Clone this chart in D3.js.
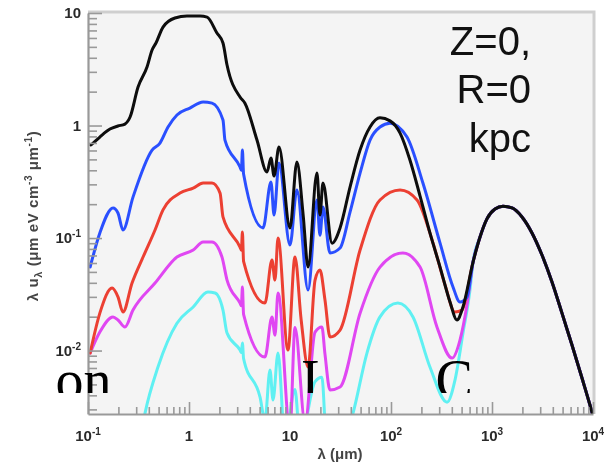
<!DOCTYPE html>
<html>
<head>
<meta charset="utf-8">
<script src="https://cdn.jsdelivr.net/npm/d3@7/dist/d3.min.js"></script>
<style>
  html, body { margin: 0; padding: 0; background: #fff; }
  svg { display: block; }
</style>
</head>
<body>
<svg id="chart" width="616" height="472"></svg>
<script>
// Interstellar radiation field spectra, [wavelength (µm), λ u_λ (µm eV cm^-3 µm^-1)]
const blackSeries = [[0.107,0.671],[0.131,0.79],[0.165,0.93],[0.198,0.99],[0.232,1.03],[0.261,1.19],[0.313,2.2],[0.384,3.31],[0.431,4.69],[0.471,5.41],[0.553,7.5],[0.726,9.03],[0.955,9.4],[1.29,9.4],[1.51,9.2],[1.89,6.64],[2.17,5.41],[2.38,3.45],[3.2,1.79],[3.58,1.58],[4.71,0.743],[5.92,0.386],[6.48,0.514],[6.95,0.356],[7.78,0.644],[10.0,0.123],[11.7,0.474],[13.5,0.16],[15.1,0.0552],[18.5,0.378],[19.8,0.16],[21.2,0.308],[26.1,0.09],[31.3,0.123],[39.3,0.284],[49.4,0.605],[62,0.97],[77.8,1.17],[97.8,1.10],[123,0.857],[154,0.494],[194,0.236],[243,0.111],[306,0.0552],[384,0.027],[450,0.0187],[516,0.0244]];
const blueSeries = [[0.105,0.0552],[0.131,0.111],[0.177,0.185],[0.198,0.167],[0.222,0.118],[0.279,0.231],[0.431,0.605],[0.516,0.699],[0.62,0.97],[0.76,1.24],[1.02,1.43],[1.38,1.62],[1.69,1.58],[2.17,1.12],[2.27,0.743],[3.2,0.428],[3.3,0.40],[3.38,0.605],[3.47,0.37],[5.41,0.123],[6.48,0.315],[6.95,0.16],[7.78,0.464],[10,0.0867],[11.7,0.267],[15.1,0.0345],[18.5,0.218],[19.8,0.106],[21.2,0.189],[24.9,0.0736],[31.3,0.0815],[39.3,0.17],[49.4,0.378],[62,0.743],[77.8,0.97],[97.8,1.05],[144,0.791],[207,0.308],[306,0.09],[411,0.0367],[482,0.027],[565,0.0299]];
const redSeries = [[0.105,0.0095],[0.131,0.0215],[0.173,0.0359],[0.198,0.030],[0.222,0.022],[0.273,0.0398],[0.351,0.0678],[0.461,0.118],[0.553,0.178],[0.815,0.251],[1.10,0.278],[1.38,0.308],[1.69,0.308],[2.03,0.251],[2.17,0.154],[3.2,0.0832],[3.3,0.078],[3.38,0.113],[3.47,0.062],[5.65,0.0264],[6.63,0.0637],[7.10,0.0423],[7.61,0.1],[9.55,0.0101],[11.2,0.0678],[12.9,0.0187],[15.1,0.00714],[17.7,0.0423],[19.8,0.0519],[22.2,0.0281],[24.9,0.0132],[31.3,0.0152],[49.4,0.0782],[77.8,0.218],[123,0.267],[181,0.218],[261,0.09],[343,0.0382],[430,0.022],[504,0.0229]];
const magentaSeries = [[0.105,0.0095],[0.131,0.0146],[0.177,0.0199],[0.198,0.0187],[0.232,0.0162],[0.279,0.0229],[0.461,0.0398],[0.76,0.0678],[1.10,0.0782],[1.38,0.0921],[1.69,0.0921],[2.12,0.0678],[2.38,0.0423],[3.2,0.0264],[3.3,0.025],[3.38,0.0367],[3.47,0.021],[5.65,0.00875],[6.63,0.0199],[7.10,0.0137],[7.61,0.0325],[10,0.00196],[11.2,0.016],[14.1,0.0023],[17.7,0.0146],[20.7,0.0162],[22.2,0.0093],[24.9,0.00446],[31.3,0.00474],[49.4,0.0215],[77.8,0.0552],[131,0.0736],[194,0.0552],[285,0.0162],[402,0.00857],[482,0.0124],[565,0.0254]];
const cyanSeries = [[0.327,0.0016],[0.367,0.00278],[0.493,0.00714],[0.76,0.0175],[1.10,0.0244],[1.54,0.0331],[1.81,0.0325],[2.17,0.0229],[2.38,0.0143],[3.2,0.0101],[3.3,0.0096],[3.38,0.0117],[3.47,0.0085],[5.05,0.00386],[5.65,0.00241],[6.34,0.00671],[6.79,0.00363],[7.61,0.0095],[8.92,0.0016],[11.2,0.0045],[12.6,0.0016],[17.7,0.0053],[20.7,0.0058],[23,0.0016],[35,0.0016],[42.1,0.00278],[57.8,0.0095],[77.8,0.0199],[117,0.0264],[165,0.0199],[243,0.00714],[359,0.00348],[430,0.00547],[516,0.0143],[605,0.0345]];
// CMB blackbody tail shared by every curve at long wavelengths
const cmbTail = [[649,0.0612],[761,0.102],[891,0.148],[1071,0.181],[1285,0.192],[1578,0.185],[1982,0.154],[2489,0.111],[3126,0.0706],[3926,0.0407],[4931,0.0215],[6194,0.0112],[7780,0.0057],[9330,0.00328],[10000,0.00262]];

const seriesColors = ["#5ff0f2", "#e046f2", "#ec3f33", "#2a50ff", "#0c0c0c"];

const xTicks = [0.1, 1, 10, 100, 1000, 10000];
const xTickLabels = [["10","-1"],["1",""],["10",""],["10","2"],["10","3"],["10","4"]];
const yTicks = [10, 1, 0.1, 0.01];
const yTickLabels = [["10",""],["1",""],["10","-1"],["10","-2"]];

const xDomain = [0.1, 10000];
const yDomain = [0.00273, 10];

const plot = { left: 88, right: 593, top: 13, bottom: 414 };

const svg = d3.select("#chart");
const defs = svg.append("defs");
defs.append("filter").attr("id", "soft")
  .attr("x", "-5%").attr("y", "-5%").attr("width", "110%").attr("height", "110%")
  .append("feGaussianBlur").attr("stdDeviation", 0.7);
defs.append("clipPath").attr("id", "plotClip")
  .append("rect")
  .attr("x", plot.left).attr("y", plot.top)
  .attr("width", plot.right - plot.left).attr("height", plot.bottom - plot.top);
defs.append("clipPath").attr("id", "captionClip")
  .append("rect").attr("x", 0).attr("y", 0).attr("width", 616).attr("height", 393);

const x = d3.scaleLog().domain(xDomain).range([plot.left, plot.right]);
const y = d3.scaleLog().domain(yDomain).range([plot.bottom, plot.top]);

const chart = svg.append("g").attr("filter", "url(#soft)");

// panel background and frame
chart.append("rect")
  .attr("x", plot.left).attr("y", plot.top)
  .attr("width", plot.right - plot.left).attr("height", plot.bottom - plot.top)
  .attr("fill", "#f4f4f4");
chart.append("path")
  .attr("d", `M${plot.left},${plot.top - 1}H${plot.right + 1}V${plot.bottom}`)
  .attr("fill", "none").attr("stroke", "#cfcfcf").attr("stroke-width", 3);

// curves
const line = d3.line()
  .x(d => x(d[0])).y(d => y(d[1]))
  .curve(d3.curveMonotoneX);

const allSeries = [cyanSeries, magentaSeries, redSeries, blueSeries, blackSeries];
const curves = chart.append("g").attr("clip-path", "url(#plotClip)");
allSeries.forEach((s, i) => {
  curves.append("path")
    .datum(s.concat(cmbTail))
    .attr("d", line)
    .attr("fill", "none")
    .attr("stroke", seriesColors[i])
    .attr("stroke-width", 3)
    .attr("stroke-linejoin", "round")
    .attr("stroke-linecap", "round");
});

// axes
const isMajor = v => Math.abs(Math.log10(v) - Math.round(Math.log10(v))) < 1e-6;
const xAxis = d3.axisBottom(x)
  .tickValues(x.ticks())
  .tickSizeOuter(0)
  .tickFormat("");
const gx = chart.append("g")
  .attr("transform", `translate(0,${plot.bottom})`)
  .call(xAxis);
gx.selectAll(".tick line")
  .attr("y2", d => isMajor(d) ? -12 : -7);

const yAxis = d3.axisLeft(y)
  .tickValues(y.ticks())
  .tickSizeOuter(0)
  .tickFormat("");
const gy = chart.append("g")
  .attr("transform", `translate(${plot.left},0)`)
  .call(yAxis);
gy.selectAll(".tick line")
  .attr("x2", d => isMajor(d) ? 14 : 9);

[gx, gy].forEach(g => {
  g.select(".domain").attr("stroke", "#999").attr("stroke-width", 2.2);
  g.selectAll(".tick line").attr("stroke", "#999").attr("stroke-width", 1.6);
});

const labelFont = "'Liberation Sans', Arial, sans-serif";

// x tick labels
xTicks.forEach((v, i) => {
  const t = chart.append("text")
    .attr("x", x(v)).attr("y", 441)
    .attr("text-anchor", "middle")
    .attr("font-family", labelFont).attr("font-weight", "bold")
    .attr("font-size", 15).attr("fill", "#2a2a2a");
  t.append("tspan").text(xTickLabels[i][0]);
  if (xTickLabels[i][1]) {
    t.append("tspan").attr("dy", -6).attr("font-size", 10).text(xTickLabels[i][1]);
  }
});

// y tick labels
yTicks.forEach((v, i) => {
  const t = chart.append("text")
    .attr("x", 81).attr("y", y(v) + 5)
    .attr("text-anchor", "end")
    .attr("font-family", labelFont).attr("font-weight", "bold")
    .attr("font-size", 15).attr("fill", "#2a2a2a");
  t.append("tspan").text(yTickLabels[i][0]);
  if (yTickLabels[i][1]) {
    t.append("tspan").attr("dy", -6).attr("font-size", 10).text(yTickLabels[i][1]);
  }
});

// axis titles
chart.append("text")
  .attr("x", 340).attr("y", 459)
  .attr("text-anchor", "middle")
  .attr("font-family", labelFont).attr("font-weight", "bold")
  .attr("font-size", 15).attr("fill", "#444")
  .text("λ (μm)");

const yTitle = chart.append("text")
  .attr("transform", "translate(38,216) rotate(-90)")
  .attr("text-anchor", "middle")
  .attr("font-family", labelFont).attr("font-weight", "bold")
  .attr("font-size", 15).attr("letter-spacing", 0.6).attr("fill", "#444");
yTitle.append("tspan").text("λ u");
yTitle.append("tspan").attr("dy", 4).attr("font-size", 11).text("λ");
yTitle.append("tspan").attr("dy", -4).text(" (μm eV cm");
yTitle.append("tspan").attr("dy", -6).attr("font-size", 10).text("-3");
yTitle.append("tspan").attr("dy", 6).text(" μm");
yTitle.append("tspan").attr("dy", -6).attr("font-size", 10).text("-1");
yTitle.append("tspan").attr("dy", 6).text(")");

// position caption
const captionLines = ["Z=0,", "R=0", "kpc"];
const captionBaselines = [55, 103, 152];
captionLines.forEach((s, i) => {
  svg.append("text")
    .attr("x", 531).attr("y", captionBaselines[i])
    .attr("text-anchor", "end")
    .attr("font-family", labelFont)
    .attr("font-size", 40).attr("fill", "#111")
    .text(s);
});

// serif lettering running along the lower edge
const serifWords = ["on", "I", "C"];
const serifX = [55.5, 301, 435.5];
const serif = svg.append("g").attr("clip-path", "url(#captionClip)");
serifWords.forEach((s, i) => {
  serif.append("text")
    .attr("x", serifX[i]).attr("y", 399)
    .attr("font-family", "'Liberation Serif', 'Times New Roman', serif")
    .attr("font-size", 56).attr("fill", "#000")
    .text(s);
});
</script>
</body>
</html>
